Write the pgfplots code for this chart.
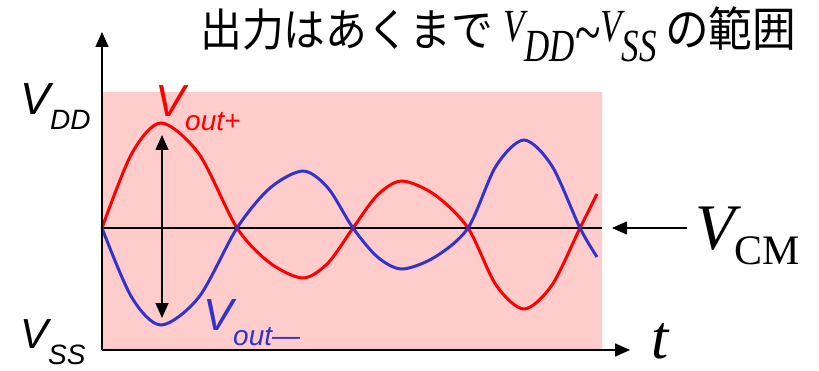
\documentclass[border=0pt]{standalone}
\usepackage{pgfplots}
\pgfplotsset{compat=1.18}
\usetikzlibrary{arrows.meta}
\usepackage{fontspec}
\usepackage{graphicx}
\setmainfont{Liberation Sans}
\newfontfamily\jp[FakeStretch=0.93]{Noto Sans CJK JP}
\newfontfamily\tnr{Liberation Serif}
\definecolor{pinkc}{HTML}{FFCCCC}
\definecolor{redc}{HTML}{FF0000}
\definecolor{bluec}{HTML}{3333CC}
\begin{document}
\begin{tikzpicture}
\begin{axis}[
  scale only axis, width=528bp, height=318bp,
  xmin=102, xmax=630, ymin=-122, ymax=196,
  axis lines=left, axis on top,
  axis line style={line width=1.6bp, -{Triangle[length=15bp,width=13bp]}},
  xtick=\empty, ytick=\empty, clip=false,
]
\addplot[fill=pinkc, draw=none] coordinates {(102,-122) (602,-122) (602,136) (102,136) (102,-122)};
\addplot[black, line width=1.4bp] coordinates {(102,0) (602,0)};
\addplot[redc, line width=3bp, smooth] coordinates {
 (102,0) (131.5,74) (161,105) (199,74) (237,0) (270,-35) (303,-50) (328,-35)
 (353,0) (377.5,33) (402,47) (435,33) (468,0) (496,-57) (524,-81) (552,-57)
 (580,0) (597,34)};
\addplot[bluec, line width=3bp, smooth] coordinates {
 (102,0) (131.5,-69) (161,-97) (199,-69) (237,0) (270,40) (303,57) (328,40)
 (353,0) (377.5,-29) (402,-41) (435,-29) (468,0) (496,62) (524,88) (552,62)
 (580,0) (597,-29)};
% double arrow
\draw[line width=1.4bp, {Triangle[length=15bp,width=13bp]}-{Triangle[length=15bp,width=13bp]}] (axis cs:162,93) -- (axis cs:162,-90);
% VCM arrow
\draw[line width=1.4bp, -{Triangle[length=15bp,width=13bp]}] (axis cs:687,0) -- (axis cs:612,0);
% labels
\node[anchor=base west, inner sep=0] at (axis cs:20,113) {\fontsize{45bp}{50bp}\selectfont\itshape V\raisebox{-15bp}{\fontsize{28bp}{30bp}\selectfont DD}};
\node[anchor=base west, inner sep=0] at (axis cs:20,-120) {\fontsize{42bp}{44bp}\selectfont\itshape V\raisebox{-16bp}{\fontsize{28bp}{30bp}\selectfont SS}};
\node[anchor=base west, inner sep=0, text=redc] at (axis cs:155,111) {\fontsize{45bp}{50bp}\selectfont\itshape V\raisebox{-14bp}{\fontsize{28bp}{30bp}\selectfont out+}};
\node[anchor=base west, inner sep=0, text=bluec] at (axis cs:203,-102) {\fontsize{45bp}{50bp}\selectfont\itshape V\raisebox{-15bp}{\fontsize{28bp}{30bp}\selectfont out—}};
\node[anchor=base west, inner sep=0] at (axis cs:695,-22) {\tnr\fontsize{65bp}{70bp}\selectfont\itshape V\raisebox{-15bp}{\fontsize{42bp}{45bp}\selectfont\upshape CM}};
\node[anchor=base west, inner sep=0] at (axis cs:651,-130) {\tnr\fontsize{62bp}{66bp}\selectfont\itshape t};
\node[anchor=base west, inner sep=0] at (axis cs:200,181) {\jp\fontsize{45bp}{48bp}\selectfont 出力はあくまで};
\node[anchor=base west, inner sep=0] at (axis cs:503,186) {\scalebox{0.76}[1]{\tnr\fontsize{46bp}{50bp}\selectfont\itshape V\raisebox{-20bp}{DD}\raisebox{-12bp}{\upshape\fontsize{62bp}{62bp}\selectfont\char"7E}V\raisebox{-20bp}{SS}}};
\node[anchor=base west, inner sep=0] at (axis cs:665,181) {\jp\fontsize{47bp}{50bp}\selectfont の範囲};
\coordinate (BL) at (axis cs:0,-143);
\coordinate (TR) at (axis cs:819,228);
\end{axis}
\pgfresetboundingbox
\path (BL) rectangle (TR);
\end{tikzpicture}
\end{document}
